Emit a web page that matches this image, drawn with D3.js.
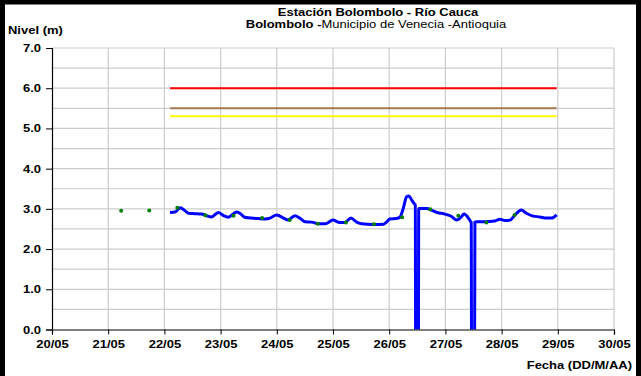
<!DOCTYPE html>
<html><head><meta charset="utf-8">
<script src="https://cdn.jsdelivr.net/npm/d3@7/dist/d3.min.js"></script>
<style>body{margin:0;background:#fff}svg{display:block}text{font-family:"Liberation Sans",Arial,sans-serif}</style>
</head><body><svg id="c" width="641" height="376"></svg>
<script>
// ---- data ----
const xTickDays = [20,21,22,23,24,25,26,27,28,29,30];
const xTickLabels = ["20/05","21/05","22/05","23/05","24/05","25/05","26/05","27/05","28/05","29/05","30/05"];
const yTicks = [0,1,2,3,4,5,6,7];
const yTickLabels = ["0.0","1.0","2.0","3.0","4.0","5.0","6.0","7.0"];

// continuous level (day of May, metres)
const levelDays = [22.10,22.19,22.28,22.37,22.43,22.54,22.66,22.75,22.84,22.96,23.05,23.14,23.20,23.29,23.36,23.43,23.55,23.67,23.79,23.88,24.00,24.12,24.20,24.32,24.41,24.50,24.62,24.74,24.86,25.00,25.12,25.21,25.32,25.42,25.51,25.60,25.75,25.90,25.96,26.01,26.13,26.19,26.25,26.31,26.35,26.40,26.45,26.465,26.47,26.52,26.525,26.55,26.67,26.76,26.85,26.99,27.11,27.20,27.29,27.33,27.41,27.45,27.46,27.465,27.52,27.525,27.56,27.70,27.88,27.97,28.06,28.15,28.24,28.35,28.44,28.56,28.68,28.80,28.89,28.98];
const levelVals = [2.91,2.92,3.03,2.95,2.89,2.88,2.87,2.83,2.80,2.91,2.83,2.79,2.85,2.92,2.87,2.79,2.77,2.76,2.75,2.77,2.85,2.77,2.72,2.83,2.77,2.68,2.67,2.63,2.63,2.72,2.66,2.66,2.77,2.67,2.63,2.62,2.61,2.62,2.68,2.75,2.76,2.79,3.01,3.30,3.32,3.22,3.12,3.10,-0.3,-0.3,3.01,3.01,3.01,2.96,2.91,2.87,2.81,2.72,2.81,2.87,2.77,2.68,2.66,-0.3,-0.3,2.67,2.68,2.68,2.70,2.74,2.71,2.72,2.85,2.97,2.89,2.82,2.80,2.77,2.77,2.85];

// manual readings (green dots)
const readDays = [21.23,21.73,22.23,22.73,23.23,23.74,24.23,24.73,25.23,25.73,26.23,26.73,27.23,27.73,28.23];
const readVals = [2.95,2.96,3.03,2.84,2.83,2.77,2.72,2.63,2.66,2.62,2.79,2.99,2.83,2.66,2.85];

// alert thresholds
const thresholdVals = [6.0,5.5,5.3];
const thresholdColors = ["#ff0000","#a87a52","#ffff00"];
const thresholdStart = 22.1, thresholdEnd = 28.98;

// ---- layout ----
const svg = d3.select("#c");
const L = 52, R = 614, T = 48, B = 329.5;
const x = d3.scaleLinear().domain([20,30]).range([L,R]);
const y = d3.scaleLinear().domain([0,7]).range([B,T]);

svg.append("rect").attr("width",641).attr("height",376).attr("fill","#fff");
// outer frame
svg.append("rect").attr("x",2.5).attr("y",2).attr("width",636).attr("height",390)
  .attr("fill","none").attr("stroke","#000").attr("stroke-width",5);

// grid
const g = svg.append("g");
g.selectAll(".hg").data(d3.range(0.5,7.01,0.5)).join("line")
  .attr("x1",L).attr("x2",R).attr("y1",d=>y(d)).attr("y2",d=>y(d))
  .attr("stroke","#cccccc").attr("stroke-width",1.2);
g.selectAll(".vg").data(xTickDays.slice(1)).join("line")
  .attr("x1",d=>x(d)).attr("x2",d=>x(d)).attr("y1",T).attr("y2",B)
  .attr("stroke","#cccccc").attr("stroke-width",1.2);

svg.append("defs").append("clipPath").attr("id","clip").append("rect")
  .attr("x",L).attr("y",T).attr("width",R-L).attr("height",B-T);

// thresholds
svg.append("g").selectAll("line").data(thresholdVals).join("line")
  .attr("x1",x(thresholdStart)).attr("x2",x(thresholdEnd))
  .attr("y1",d=>y(d)).attr("y2",d=>y(d))
  .attr("stroke",(d,i)=>thresholdColors[i]).attr("stroke-width",2);

// level line
const pts = levelDays.map((d,i)=>[d,levelVals[i]]);
svg.append("path").datum(pts).attr("clip-path","url(#clip)")
  .attr("fill","none").attr("stroke","#0000ff").attr("stroke-width",3)
  .attr("stroke-linejoin","round")
  .attr("d",d3.line().x(d=>x(d[0])).y(d=>y(d[1])).curve(d3.curveMonotoneX));

// readings
svg.append("g").selectAll("circle").data(readDays).join("circle")
  .attr("cx",d=>x(d)).attr("cy",(d,i)=>y(readVals[i])).attr("r",2)
  .attr("fill","#008000");

// axes
const yAx = svg.append("g").attr("transform",`translate(${L},0)`)
  .call(d3.axisLeft(y).tickValues(yTicks).tickFormat((d,i)=>yTickLabels[i]).tickSize(6).tickPadding(5));
const xAx = svg.append("g").attr("transform",`translate(0,${B})`)
  .call(d3.axisBottom(x).tickValues(xTickDays).tickFormat((d,i)=>xTickLabels[i]).tickSize(5).tickPadding(6));
[yAx,xAx].forEach(a=>{
  a.select(".domain").attr("stroke","#000").attr("stroke-width",1.2);
  a.selectAll(".tick line").attr("stroke","#000");
  a.selectAll("text").attr("font-family","Liberation Sans, Arial, sans-serif")
    .attr("font-size",11).attr("font-weight","bold").attr("fill","#000");
});

// texts
svg.append("text").attr("x",8).attr("y",34).attr("font-size",11).attr("font-weight","bold").text("Nivel (m)");
svg.append("text").attr("x",378).attr("y",16).attr("text-anchor","middle").attr("font-size",11).attr("font-weight","bold").text("Estación Bolombolo - Río Cauca");
const t2 = svg.append("text").attr("x",376).attr("y",28).attr("text-anchor","middle").attr("font-size",11);
t2.append("tspan").attr("font-weight","bold").text("Bolombolo -");
t2.append("tspan").text("Municipio de Venecia -Antioquia");
svg.append("text").attr("x",632).attr("y",369).attr("text-anchor","end").attr("font-size",11).attr("font-weight","bold").text("Fecha (DD/M/AA)");

// horizontally widened lettering, as in the reference
svg.selectAll("text").each(function(){
  const w = this.getComputedTextLength();
  d3.select(this).attr("textLength", w*1.18).attr("lengthAdjust","spacingAndGlyphs");
});
</script></body></html>
